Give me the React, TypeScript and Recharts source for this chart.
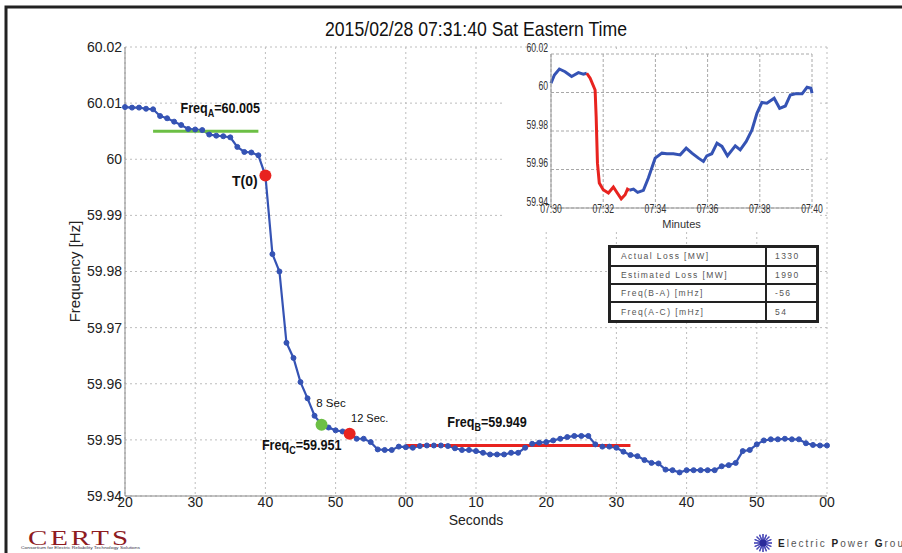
import React from 'react'
import {
  ComposedChart,
  Line,
  XAxis,
  YAxis,
  CartesianGrid,
  ReferenceLine,
  ReferenceDot,
} from 'recharts'

// main plot: one sample per second, 07:31:20 .. 07:33:00
const freq = [
  60.0093, 60.0092, 60.0092, 60.009, 60.0089, 60.0077, 60.0073, 60.0067, 60.0061, 60.0054,
  60.0053, 60.0052, 60.0044, 60.0042, 60.0041, 60.0039, 60.0022, 60.0013, 60.0012, 60.0007,
  59.9971, 59.9831, 59.98, 59.9673, 59.9646, 59.9603, 59.9574, 59.9543, 59.9527, 59.9522,
  59.9517, 59.9515, 59.9511, 59.9502, 59.9502, 59.9496, 59.9483, 59.9482, 59.9482, 59.9488,
  59.9487, 59.9486, 59.9489, 59.949, 59.949, 59.949, 59.9489, 59.9485, 59.9482, 59.9482,
  59.948, 59.9477, 59.9474, 59.9474, 59.9474, 59.9477, 59.9477, 59.9486, 59.9493, 59.9495,
  59.9496, 59.9499, 59.9502, 59.9505, 59.9507, 59.9507, 59.9507, 59.9492, 59.9488, 59.9488,
  59.9486, 59.9479, 59.9473, 59.9471, 59.9464, 59.9459, 59.9458, 59.9447, 59.9446, 59.9442,
  59.9446, 59.9446, 59.9446, 59.9446, 59.9446, 59.9453, 59.9455, 59.9459, 59.948, 59.9482,
  59.9492, 59.9499, 59.9501, 59.9501, 59.9502, 59.9501, 59.9501, 59.9494, 59.9491, 59.949,
  59.949,
]
const xTicks = [0, 10, 20, 30, 40, 50, 60, 70, 80, 90, 100]
const xTickLabels = ['20', '30', '40', '50', '00', '10', '20', '30', '40', '50', '00']
const yTicks = [59.94, 59.95, 59.96, 59.97, 59.98, 59.99, 60, 60.01, 60.02]
const yTickLabels = ['59.94', '59.95', '59.96', '59.97', '59.98', '59.99', '60', '60.01', '60.02']

const freqA = 60.005
const freqB = 59.949
const freqC = 59.951
const freqASpan = [4, 19]
const freqBSpan = [40, 72]
const eventSeconds = [20, 28, 32] // T(0), 8 Sec, 12 Sec.
const eventColors = ['#e8231f', '#6cbf45', '#e8231f']

// inset: 07:30 .. 07:40
const insetMinutes = [
  0, 0.13, 0.32, 0.54, 0.79, 1.05, 1.24, 1.37, 1.5, 1.69, 1.73, 1.78, 1.85, 2.0, 2.2, 2.39,
  2.54, 2.69, 2.84, 2.93, 3.0, 3.16, 3.32, 3.54, 3.73, 3.99, 4.25, 4.44, 4.69, 4.95, 5.18,
  5.4, 5.65, 5.84, 5.97, 6.16, 6.36, 6.55, 6.76, 7.06, 7.25, 7.48, 7.7, 7.89, 8.08, 8.27,
  8.55, 8.76, 8.98, 9.17, 9.36, 9.62, 9.81, 9.96, 10,
]
const insetFreq = [
  60.0048, 60.0091, 60.0122, 60.0108, 60.0083, 60.0103, 60.0095, 60.01, 60.0074, 60.0013,
  59.9875, 59.9633, 59.953, 59.9495, 59.9478, 59.9509, 59.9478, 59.9448, 59.9469, 59.9498,
  59.9492, 59.9498, 59.9481, 59.9492, 59.9556, 59.9659, 59.9685, 59.9682, 59.9682, 59.9676,
  59.9711, 59.9685, 59.9659, 59.9642, 59.9671, 59.9682, 59.9737, 59.972, 59.9671, 59.9723,
  59.9702, 59.9746, 59.9806, 59.9892, 59.9948, 59.9944, 59.997, 59.9918, 59.993, 59.9987,
  59.9993, 59.9993, 60.0027, 60.0022, 59.9996,
]
const insetRedFrom = 7
const insetRedTo = 20
const insetXTicks = [0, 2, 4, 6, 8, 10]
const insetXTickLabels = ['07:30', '07:32', '07:34', '07:36', '07:38', '07:40']
const insetYTicks = [59.94, 59.96, 59.98, 60, 60.02]
const insetYTickLabels = ['59.94', '59.96', '59.98', '60', '60.02']

const tableLabels = ['Actual Loss [MW]', 'Estimated Loss [MW]', 'Freq(B-A) [mHz]', 'Freq(A-C) [mHz]']
const tableValues = ['1330', '1990', '-56', '54']

const FONT = '"Liberation Sans", Arial, sans-serif'
const BLUE = '#3553b4'
const RED = '#e8231f'

const mainRows = freq.map((f, s) => ({ s, f }))
const insetRows = insetMinutes.map((m, i) => ({
  m,
  blue: i <= insetRedFrom || i >= insetRedTo ? insetFreq[i] : null,
  red: i >= insetRedFrom && i <= insetRedTo ? insetFreq[i] : null,
}))

function FreqLabel({ cx, cy, sub, value }: any) {
  return (
    <text x={cx} y={cy} fontSize={14} fontWeight="bold" fill="#111" fontFamily={FONT}
      transform={`translate(${cx},0) scale(0.9,1) translate(${-cx},0)`}>
      Freq
      <tspan fontSize={10} dy={4}>{sub}</tspan>
      <tspan dy={-4}>={value}</tspan>
    </text>
  )
}

function Note({ cx, cy, text, size, bold, anchor }: any) {
  return (
    <text x={cx} y={cy} fontSize={size} fontWeight={bold ? 'bold' : 'normal'} fill="#111"
      fontFamily={FONT} textAnchor={anchor || 'start'}>
      {text}
    </text>
  )
}

function InsetXTick({ x, y, payload }: any) {
  return (
    <text transform={`translate(${x},${y + 1}) scale(0.72,1)`} textAnchor="middle" dy="0.35em"
      fontSize={12} fill="#333" fontFamily={FONT}>
      {insetXTickLabels[insetXTicks.indexOf(payload.value)]}
    </text>
  )
}

function InsetYTick({ x, y, payload }: any) {
  return (
    <text transform={`translate(${x},${y - 6.5}) scale(0.72,1)`} textAnchor="end" dy="0.35em"
      fontSize={12} fill="#333" fontFamily={FONT}>
      {insetYTickLabels[insetYTicks.indexOf(payload.value)]}
    </text>
  )
}

function MainChart() {
  return (
    <ComposedChart width={902} height={553} data={mainRows}
      margin={{ top: 47, right: 75, bottom: 27, left: 65 }}>
      <CartesianGrid stroke="#bdbdbd" strokeDasharray="2 3" />
      <XAxis dataKey="s" type="number" domain={[0, 100]} ticks={xTicks} interval={0}
        tickFormatter={(v: number) => xTickLabels[xTicks.indexOf(v)]}
        height={30} tickSize={0} tickMargin={1} axisLine={{ stroke: '#888' }}
        tick={{ fontSize: 14, fill: '#222', fontFamily: FONT }}
        label={{ value: 'Seconds', position: 'insideBottom', offset: 1, fontSize: 14, fill: '#222', fontFamily: FONT }} />
      <XAxis xAxisId="top" orientation="top" dataKey="s" type="number" domain={[0, 100]}
        tick={false} tickLine={false} height={0} axisLine={{ stroke: '#888' }} />
      <YAxis type="number" domain={[59.94, 60.02]} ticks={yTicks} interval={0}
        tickFormatter={(v: number) => yTickLabels[yTicks.indexOf(v)]}
        width={60} tickSize={0} tickMargin={3} axisLine={{ stroke: '#888' }}
        tick={{ fontSize: 14, fill: '#222', fontFamily: FONT }}
        label={{ value: 'Frequency [Hz]', angle: -90, position: 'insideLeft', offset: 10,
          style: { textAnchor: 'middle' }, fontSize: 15, fill: '#222', fontFamily: FONT }} />
      <YAxis yAxisId="right" orientation="right" type="number" domain={[59.94, 60.02]}
        tick={false} tickLine={false} width={0} axisLine={{ stroke: '#888' }} />
      <Line dataKey="f" stroke={BLUE} strokeWidth={2.2} isAnimationActive={false} activeDot={false}
        dot={{ r: 2.5, fill: BLUE, stroke: BLUE, strokeWidth: 1 }} />
      <ReferenceLine segment={[{ x: freqASpan[0], y: freqA }, { x: freqASpan[1], y: freqA }]}
        stroke="#6cbf45" strokeWidth={3} />
      <ReferenceLine segment={[{ x: freqBSpan[0], y: freqB }, { x: freqBSpan[1], y: freqB }]}
        stroke={RED} strokeWidth={3} />
      {eventSeconds.map((s, i) => (
        <ReferenceDot key={s} x={s} y={freq[s]} r={6} fill={eventColors[i]} stroke="none" />
      ))}
      <ReferenceDot x={7.9} y={60.0083} r={0}
        shape={(p: any) => <FreqLabel cx={p.cx} cy={p.cy} sub="A" value={freqA.toFixed(3)} />} />
      <ReferenceDot x={19.5} y={59.9482} r={0}
        shape={(p: any) => <FreqLabel cx={p.cx} cy={p.cy} sub="C" value={freqC.toFixed(3)} />} />
      <ReferenceDot x={45.9} y={59.9523} r={0}
        shape={(p: any) => <FreqLabel cx={p.cx} cy={p.cy} sub="B" value={freqB.toFixed(3)} />} />
      <ReferenceDot x={18.9} y={59.9952} r={0}
        shape={(p: any) => <Note cx={p.cx} cy={p.cy} text="T(0)" size={14} bold anchor="end" />} />
      <ReferenceDot x={27.25} y={59.9558} r={0}
        shape={(p: any) => <Note cx={p.cx} cy={p.cy} text="8 Sec" size={11.5} />} />
      <ReferenceDot x={32.2} y={59.9532} r={0}
        shape={(p: any) => <Note cx={p.cx} cy={p.cy} text="12 Sec." size={11} />} />
    </ComposedChart>
  )
}

function InsetChart() {
  return (
    <div style={{ position: 'absolute', left: 505, top: 40, width: 330, height: 192 }}>
      <div style={{ position: 'absolute', left: 0, top: 10, width: 313, height: 182, background: '#fff' }} />
      <div style={{ position: 'absolute', left: 0, top: 0 }}>
        <ComposedChart width={330} height={192} data={insetRows}
          margin={{ top: 14, right: 23, bottom: 4, left: 6 }}>
          <CartesianGrid stroke="#a8a8a8" strokeDasharray="3 2" />
          <XAxis dataKey="m" type="number" domain={[0, 10]} ticks={insetXTicks} interval={0}
            height={20} tickSize={0} tickMargin={0} axisLine={{ stroke: '#999' }}
            tick={<InsetXTick />}
            label={{ value: 'Minutes', position: 'insideBottom', offset: 0, fontSize: 11, fill: '#333', fontFamily: FONT }} />
          <XAxis xAxisId="top" orientation="top" dataKey="m" type="number" domain={[0, 10]}
            tick={false} tickLine={false} height={0} axisLine={{ stroke: '#999' }} />
          <YAxis type="number" domain={[59.94, 60.02]} ticks={insetYTicks} interval={0}
            width={40} tickSize={0} tickMargin={3} axisLine={{ stroke: '#999' }}
            tick={<InsetYTick />} />
          <YAxis yAxisId="right" orientation="right" type="number" domain={[59.94, 60.02]}
            tick={false} tickLine={false} width={0} axisLine={{ stroke: '#999' }} />
          <Line dataKey="blue" stroke={BLUE} strokeWidth={3} dot={false} activeDot={false}
            isAnimationActive={false} />
          <Line dataKey="red" stroke={RED} strokeWidth={3} dot={false} activeDot={false}
            isAnimationActive={false} />
        </ComposedChart>
      </div>
    </div>
  )
}

function LossTable() {
  const cell: React.CSSProperties = {
    border: '2px solid #222',
    height: 15,
    padding: '0 0 0 10px',
    fontSize: 8.5,
    letterSpacing: 1.4,
    color: '#555',
    fontFamily: FONT,
    whiteSpace: 'nowrap',
  }
  return (
    <table style={{ position: 'absolute', left: 608, top: 245, width: 211, height: 78,
      borderCollapse: 'collapse', border: '3px solid #222', background: '#fff' }}>
      <tbody>
        {tableLabels.map((l, i) => (
          <tr key={l}>
            <td style={{ ...cell, width: 144 }}>{l}</td>
            <td style={{ ...cell, paddingLeft: 8 }}>{tableValues[i]}</td>
          </tr>
        ))}
      </tbody>
    </table>
  )
}

function Overlay() {
  const rays = Array.from({ length: 16 }, (_, i) => (i * Math.PI) / 8)
  return (
    <svg width={902} height={553} style={{ position: 'absolute', left: 0, top: 0, pointerEvents: 'none' }}>
      <polyline points="6,553 6,7 902,7" fill="none" stroke="#222" strokeWidth={3} />
      <text x={325} y={36} fontSize={21} fill="#111" fontFamily={FONT} textLength={302}
        lengthAdjust="spacingAndGlyphs">
        2015/02/28 07:31:40 Sat Eastern Time
      </text>
      <text transform="translate(28,545) scale(1.45,1)" fontSize={20} fill="#8e1b1f"
        fontFamily='"Liberation Serif", "Times New Roman", serif' letterSpacing={2}>
        CERTS
      </text>
      <text x={21} y={549} fontSize={3.5} fill="#334" fontFamily={FONT} textLength={119}
        lengthAdjust="spacingAndGlyphs">
        Consortium for Electric Reliability Technology Solutions
      </text>
      {rays.map((a) => (
        <line key={a} x1={763 - 9 * Math.cos(a)} y1={543 - 9 * Math.sin(a)}
          x2={763 + 9 * Math.cos(a)} y2={543 + 9 * Math.sin(a)} stroke="#4a4ab8" strokeWidth={1.2} />
      ))}
      <circle cx={763} cy={543} r={3.5} fill="#2b2b9a" />
      <text x={778} y={547} fontSize={10} fill="#555" fontFamily={FONT} letterSpacing={2}>
        <tspan fontWeight="bold" fill="#222">E</tspan>lectric{' '}
        <tspan fontWeight="bold" fill="#222">P</tspan>ower{' '}
        <tspan fontWeight="bold" fill="#222">G</tspan>roup
      </text>
    </svg>
  )
}

export default function App() {
  return (
    <div style={{ position: 'relative', width: 902, height: 553, background: '#fff', overflow: 'hidden' }}>
      <style>{'body{margin:0}'}</style>
      <div style={{ position: 'absolute', left: 0, top: 0 }}>
        <MainChart />
      </div>
      <InsetChart />
      <LossTable />
      <Overlay />
    </div>
  )
}
